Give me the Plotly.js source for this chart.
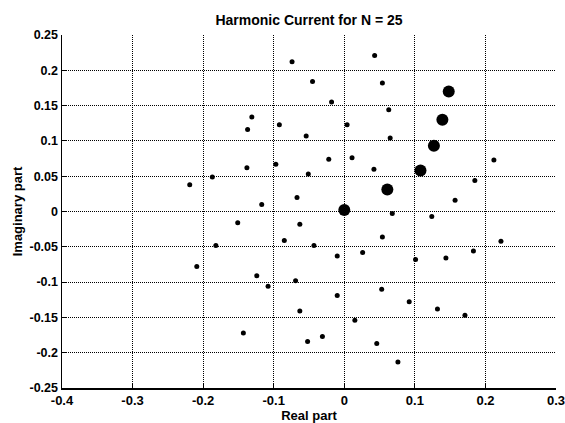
<!DOCTYPE html>
<html><head><meta charset="utf-8">
<script src="https://cdn.plot.ly/plotly-3.0.1.min.js"></script>
<style>html,body{margin:0;padding:0;background:#fff}#chart{width:565px;height:423px}</style>
</head><body><div id="chart"></div>
<script>
// Harmonic components (small markers)
var harmReal = [-0.187,-0.219,-0.074,-0.045,-0.018,-0.131,-0.137,-0.092,0.004,-0.054,-0.138,-0.097,-0.022,-0.051,-0.067,
  0.043,0.054,0.063,0.065,0.011,0.212,0.042,0.185,0.157,
  -0.182,-0.209,-0.117,-0.151,-0.063,-0.085,-0.043,-0.010,-0.124,-0.069,-0.108,-0.010,-0.063,-0.143,-0.031,-0.052,
  0.068,0.124,0.054,0.222,0.026,0.183,0.101,0.144,0.053,0.092,0.132,0.171,0.015,0.046,0.076];
var harmImag = [0.049,0.038,0.212,0.184,0.155,0.134,0.116,0.123,0.123,0.107,0.062,0.067,0.074,0.053,0.020,
  0.221,0.182,0.144,0.104,0.076,0.073,0.060,0.044,0.016,
  -0.048,-0.078,0.010,-0.016,-0.018,-0.041,-0.048,-0.063,-0.091,-0.098,-0.106,-0.119,-0.141,-0.172,-0.177,-0.184,
  -0.003,-0.007,-0.036,-0.042,-0.058,-0.056,-0.068,-0.066,-0.110,-0.128,-0.138,-0.147,-0.154,-0.187,-0.213];
// Dominant components (large markers)
var mainReal = [0.000,0.061,0.108,0.127,0.139,0.148];
var mainImag = [0.002,0.031,0.058,0.093,0.130,0.170];

var xTicks = [-0.4,-0.3,-0.2,-0.1,0,0.1,0.2,0.3];
var xTickText = ['-0.4','-0.3','-0.2','-0.1','0','0.1','0.2','0.3'];
var yTicks = [-0.25,-0.2,-0.15,-0.1,-0.05,0,0.05,0.1,0.15,0.2,0.25];
var yTickText = ['-0.25','-0.2','-0.15','-0.1','-0.05','0','0.05','0.1','0.15','0.2','0.25'];

var fontFam = 'Liberation Sans, Arial, sans-serif';
var traces = [
  {x: harmReal, y: harmImag, mode: 'markers', type: 'scatter',
   marker: {symbol: 'circle', size: 5, color: '#000'}},
  {x: mainReal, y: mainImag, mode: 'markers', type: 'scatter',
   marker: {symbol: 'circle', size: 12, color: '#000'}}
];
var axisCommon = {
  showgrid: true, gridcolor: '#000', griddash: '1px,1px', gridwidth: 1,
  zeroline: false, showline: true, linecolor: '#000', linewidth: 1.5,
  ticks: 'inside', ticklen: 4, tickcolor: '#000', mirror: false,
  ticklabeloverflow: 'allow',
  tickfont: {family: fontFam, size: 13, color: '#000', weight: 'bold'}
};
var layout = {
  width: 565, height: 423, showlegend: false,
  paper_bgcolor: '#fff', plot_bgcolor: '#fff',
  margin: {l: 62, r: 9, t: 35, b: 35},
  title: {text: 'Harmonic Current for N = 25', xref: 'paper', x: 0.5, xanchor: 'center',
          yref: 'container', y: 0.953, yanchor: 'middle',
          font: {family: fontFam, size: 14, color: '#000', weight: 'bold'}},
  xaxis: Object.assign({}, axisCommon, {range: [-0.4, 0.3], tickvals: xTicks, ticktext: xTickText, automargin: false,
          title: {text: 'Real part', standoff: 0, font: {family: fontFam, size: 13, color: '#000', weight: 'bold'}}}),
  yaxis: Object.assign({}, axisCommon, {range: [-0.25, 0.25], tickvals: yTicks, ticktext: yTickText, automargin: false,
          tickfont: {family: fontFam, size: 12.5, color: '#000', weight: 'bold'},
          title: {text: 'Imaginary part', standoff: 4, font: {family: fontFam, size: 13, color: '#000', weight: 'bold'}}})
};
Plotly.newPlot('chart', traces, layout, {displayModeBar: false, staticPlot: true});
</script>
</body></html>
